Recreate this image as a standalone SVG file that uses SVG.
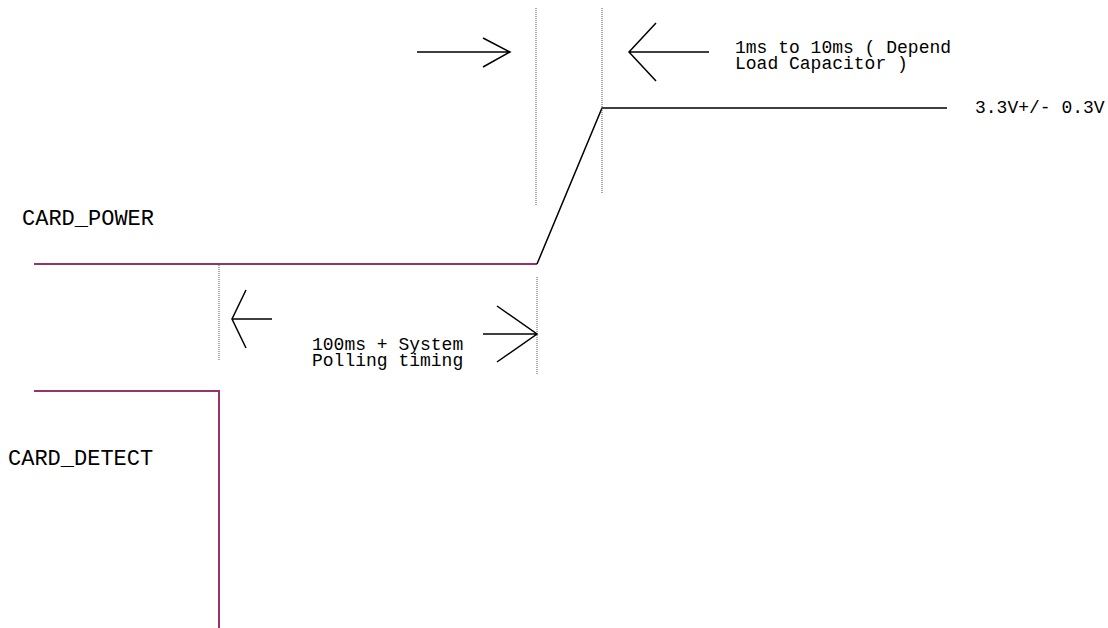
<svg xmlns="http://www.w3.org/2000/svg" width="1108" height="628" viewBox="0 0 1108 628">
  <style>
    .lbl { font-family: "Liberation Mono", "Courier New", monospace; font-size: 22px; fill: #000; }
    .ann { font-family: "Liberation Mono", "Courier New", monospace; font-size: 18px; fill: #000; }
    .sig { fill: none; stroke: #993366; stroke-width: 2; }
    .blk { fill: none; stroke: #000; stroke-width: 1.5; }
    .dot { fill: none; stroke: #555; stroke-width: 1; stroke-dasharray: 1 1; }
  </style>
  <rect width="1108" height="628" fill="#fff"/>

  <g id="card-power">
    <text class="lbl" x="22" y="225">CARD_POWER</text>
    <path class="sig" d="M34 264 H537"/>
    <path class="blk" d="M537 264 L602 108 H947"/>
    <text class="ann" x="975" y="113">3.3V+/- 0.3V</text>
  </g>

  <g id="card-detect">
    <text class="lbl" x="8" y="465">CARD_DETECT</text>
    <path class="sig" d="M34 391 H219 V628"/>
  </g>

  <g id="rise-time-label">
    <text class="ann" x="735" y="53">1ms to 10ms ( Depend</text>
    <text class="ann" x="735" y="69">Load Capacitor )</text>
  </g>

  <g id="polling-label">
    <text class="ann" x="312" y="350">100ms + System</text>
    <text class="ann" x="312" y="366">Polling timing</text>
  </g>

  <g id="connectors">
    <path class="dot" d="M536 8 V205"/>
    <path class="dot" d="M602 8 V193"/>
    <path class="dot" d="M219 265 V360"/>
    <path class="dot" d="M537 277 V374"/>
    <path class="blk" d="M417 52 H510 M483 38 L510 52 L483 67"/>
    <path class="blk" d="M709 52 H629 M656 23 L629 52 L656 81"/>
    <path class="blk" d="M272 319 H232 M246 290 L232 319 L246 348"/>
    <path class="blk" d="M483 334 H537 M497 306 L537 334 L497 362"/>
  </g>
</svg>
